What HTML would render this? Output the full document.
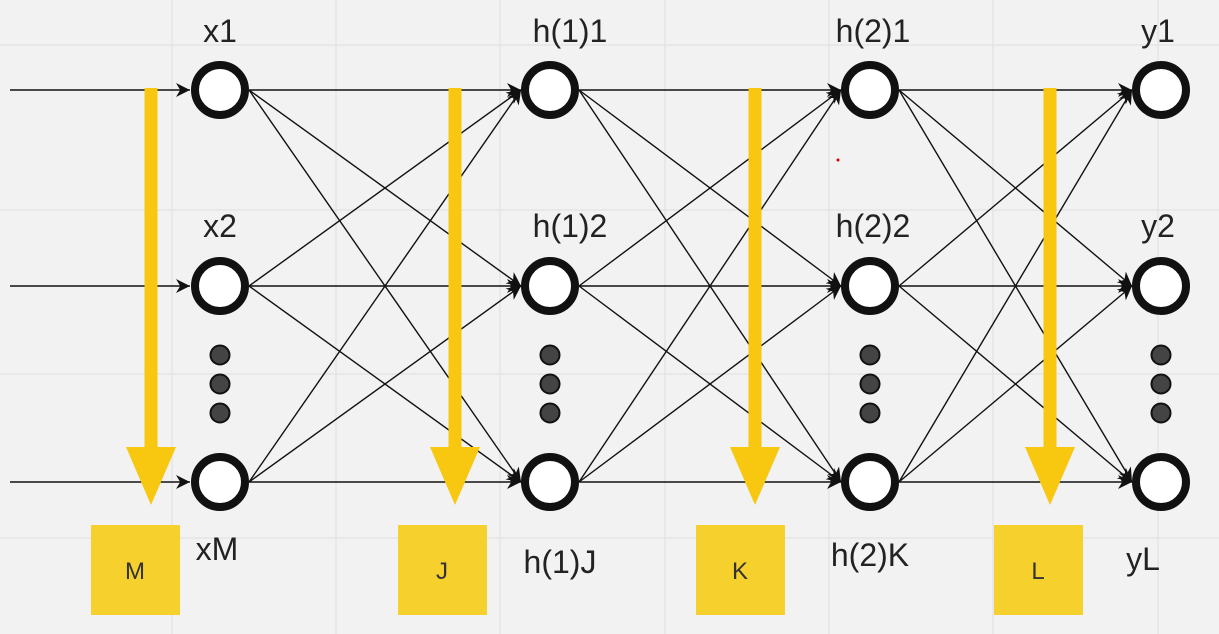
<!DOCTYPE html>
<html><head><meta charset="utf-8"><style>
html,body{margin:0;padding:0;background:#f2f2f2;}
svg{display:block;font-family:"Liberation Sans","DejaVu Sans",sans-serif;}
</style></head><body>
<svg width="1219" height="634" viewBox="0 0 1219 634" xmlns="http://www.w3.org/2000/svg">
<defs>
<marker id="ah2" viewBox="0 0 10 10" refX="10" refY="5" markerWidth="22" markerHeight="14" markerUnits="userSpaceOnUse" orient="auto">
<path d="M0,0 L10,5 L0,10 L3,5 z" fill="#111"/>
</marker>
</defs>
<g stroke="#e2e2e2" stroke-width="1.2">
<line x1="172" y1="0" x2="172" y2="634"/><line x1="336" y1="0" x2="336" y2="634"/>
<line x1="500" y1="0" x2="500" y2="634"/><line x1="665" y1="0" x2="665" y2="634"/>
<line x1="829" y1="0" x2="829" y2="634"/><line x1="993" y1="0" x2="993" y2="634"/>
<line x1="1158" y1="0" x2="1158" y2="634"/>
<line x1="0" y1="45" x2="1219" y2="45"/><line x1="0" y1="210" x2="1219" y2="210"/>
<line x1="0" y1="374" x2="1219" y2="374"/><line x1="0" y1="538" x2="1219" y2="538"/>
</g>
<g stroke="#111" stroke-width="1.4" fill="none" id="edges"></g>
<g stroke="#111" stroke-width="1.4">
<line x1="10" y1="90" x2="190" y2="90" marker-end="url(#ah2)"/>
<line x1="10" y1="286" x2="190" y2="286" marker-end="url(#ah2)"/>
<line x1="10" y1="482" x2="190" y2="482" marker-end="url(#ah2)"/>
</g>
<g id="arrows" fill="#f8c70f"></g>
<g id="nodes"></g>
<g fill="#f6d02c">
<rect x="91" y="525" width="89" height="90"/>
<rect x="398" y="525" width="89" height="90"/>
<rect x="696" y="525" width="89" height="90"/>
<rect x="994" y="525" width="89" height="90"/>
</g>
<g font-size="24" fill="#333" text-anchor="middle">
<text x="135" y="579">M</text><text x="442" y="579">J</text>
<text x="740" y="579">K</text><text x="1038" y="579">L</text>
</g>
<g font-size="32" fill="#222" text-anchor="middle">
<text x="220" y="42">x1</text><text x="220" y="237">x2</text><text x="217" y="560">xM</text>
<text x="570" y="42">h(1)1</text><text x="570" y="237">h(1)2</text><text x="560" y="573">h(1)J</text>
<text x="873" y="42">h(2)1</text><text x="873" y="237">h(2)2</text><text x="870" y="566">h(2)K</text>
<text x="1158" y="42">y1</text><text x="1158" y="237">y2</text><text x="1143" y="570">yL</text>
</g>
<circle cx="838" cy="160" r="1.5" fill="#d00"/>
<script>
var ns="http://www.w3.org/2000/svg";
var cols=[220,550,870,1161],rows=[90,286,482],R=29;
var E=document.getElementById("edges");
for(var c=0;c<3;c++)for(var i=0;i<3;i++)for(var j=0;j<3;j++){
 var l=document.createElementNS(ns,"line");
 l.setAttribute("x1",cols[c]+R);l.setAttribute("y1",rows[i]);
 l.setAttribute("x2",cols[c+1]-R);l.setAttribute("y2",rows[j]);
 l.setAttribute("marker-end","url(#ah2)");E.appendChild(l);}
var A=document.getElementById("arrows");
[151,455,755,1050].forEach(function(x){
 var r=document.createElementNS(ns,"rect");r.setAttribute("x",x-6.5);r.setAttribute("y",88);r.setAttribute("width",13);r.setAttribute("height",362);A.appendChild(r);
 var p=document.createElementNS(ns,"path");p.setAttribute("d","M"+(x-25)+",447 L"+(x+25)+",447 L"+x+",505 z");A.appendChild(p);});
var N=document.getElementById("nodes");
cols.forEach(function(x){
 rows.forEach(function(y){var c=document.createElementNS(ns,"circle");c.setAttribute("cx",x);c.setAttribute("cy",y);c.setAttribute("r",25);c.setAttribute("fill","#fff");c.setAttribute("stroke","#111");c.setAttribute("stroke-width",8);N.appendChild(c);});
 [355,384,413].forEach(function(y){var c=document.createElementNS(ns,"circle");c.setAttribute("cx",x);c.setAttribute("cy",y);c.setAttribute("r",9.5);c.setAttribute("fill","#444");c.setAttribute("stroke","#111");c.setAttribute("stroke-width",2);N.appendChild(c);});});
</script>
</svg>
</body></html>
